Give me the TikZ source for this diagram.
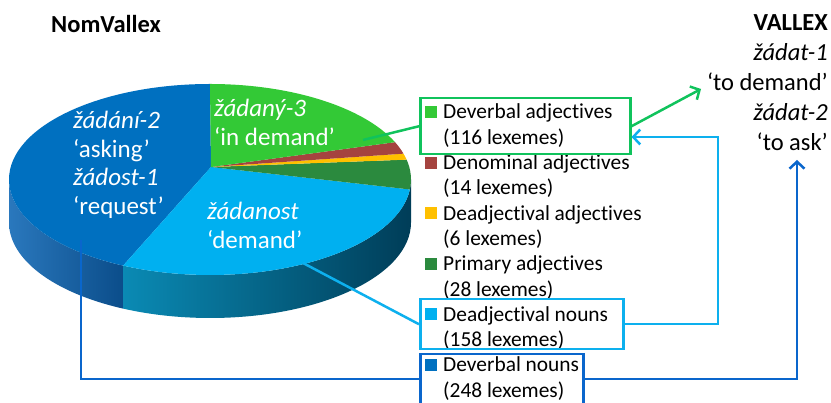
\documentclass[tikz,border=0pt]{standalone}
\usepackage{fontspec}
\setmainfont[Ligatures=NoCommon]{Carlito}
\usetikzlibrary{arrows.meta,calc}
\definecolor{cdblue}{HTML}{0070C0}
\definecolor{clblue}{HTML}{00B0F0}
\definecolor{cgreen}{HTML}{33C936}
\definecolor{cred}{HTML}{A5433F}
\definecolor{corange}{HTML}{FFC000}
\definecolor{cdgreen}{HTML}{2B8A3E}
\definecolor{lgreen}{HTML}{10C35C}
\definecolor{lblue}{HTML}{0DB0EE}
\definecolor{ldblue}{HTML}{0A66CC}
\definecolor{sideA}{HTML}{2A78BD}
\definecolor{sideB}{HTML}{0B4D8A}
\definecolor{sideC}{HTML}{0A8AB4}
\definecolor{sideD}{HTML}{004C6B}
\definecolor{sideE}{HTML}{003D58}
\newcommand\pieslice[3]{\fill[#1] (apex) -- ($(pc)+(#2:201 and 95.5)$) arc[start angle=#2,end angle=#3,x radius=201,y radius=95.5] -- cycle;}
\tikzset{
  legtext/.style={anchor=base west, inner sep=0pt, font=\fontsize{21.4}{25}\selectfont},
  legsq/.style={minimum size=12pt, inner sep=0pt, outer sep=0pt},
  pietext/.style={anchor=base west, inner sep=0pt, text=white, font=\fontsize{25}{28}\selectfont},
  vtext/.style={anchor=base east, inner sep=0pt, font=\fontsize{24.5}{30}\selectfont},
  hibox/.style={draw, line width=2.5pt, inner sep=0pt, anchor=north west},
  conn/.style={line width=2.5pt},
  tip/.style={-{Straight Barb[length=7pt,width=15pt,line width=2.5pt]}}
}
\begin{document}
\begin{tikzpicture}[x=1pt,y=1pt]
\useasboundingbox (0,0) rectangle (831,403);
\fill[white] (0,0) rectangle (831,403);
% pie geometry
\coordinate (pc) at (210,223.5);
\coordinate (apex) at (211,236);
% side
\shade[left color=sideA, right color=sideB]
  ($(pc)+(180:201 and 95.5)$) arc[start angle=180,end angle=244.4,x radius=201,y radius=95.5]
  -- ++(0,-43) arc[start angle=244.4,end angle=180,x radius=201,y radius=95.5] -- cycle;
\shade[left color=sideC, middle color=sideD, right color=sideE]
  ($(pc)+(244.4:201 and 95.5)$) arc[start angle=244.4,end angle=360,x radius=201,y radius=95.5]
  -- ++(0,-43) arc[start angle=360,end angle=244.4,x radius=201,y radius=95.5] -- cycle;
% top slices
\pieslice{cdblue}{90}{244.4}
\pieslice{clblue}{-115.6}{-6}
\pieslice{cdgreen}{-6}{12}
\pieslice{corange}{12}{15.7}
\pieslice{cred}{15.7}{23}
\pieslice{cgreen}{23}{90}
% pie labels
\node[pietext] (p1) at (73,274) {\itshape žádání-2};
\node[pietext] (p2) at (73,245.5) {‘asking’};
\node[pietext] (p3) at (73,217) {\itshape žádost-1};
\node[pietext] (p4) at (73,188.5) {‘request’};
\node[pietext] (p5) at (214,286) {\itshape žádaný-3};
\node[pietext] (p6) at (214,257) {‘in demand’};
\node[pietext] (p7) at (207,183) {\itshape žádanost};
\node[pietext] (p8) at (207,154) {‘demand’};
% titles
\node[anchor=base west, inner sep=0pt, font=\fontsize{24.5}{28}\selectfont\bfseries] (nv) at (51,370) {NomVallex};
\node[vtext, font=\fontsize{24.5}{30}\selectfont\bfseries] (v1) at (828,372) {VALLEX};
\node[vtext] (v2) at (828,342) {\itshape žádat-1};
\node[vtext] (v3) at (828,312) {‘to demand’};
\node[vtext] (v4) at (828,282) {\itshape žádat-2};
\node[vtext] (v5) at (828,252) {‘to ask’};
% legend
\node[legsq, fill=cgreen] (s1) at (431,291) {};
\node[legsq, fill=cred] (s2) at (431,240.4) {};
\node[legsq, fill=corange] (s3) at (431,189.8) {};
\node[legsq, fill=cdgreen] (s4) at (431,139.2) {};
\node[legsq, fill=clblue] (s5) at (431,88.6) {};
\node[legsq, fill=cdblue] (s6) at (431,38) {};
\node[legtext] (l1a) at (443,284) {Deverbal adjectives};
\node[legtext] (l1b) at (443,258.7) {(116 lexemes)};
\node[legtext] (l2a) at (443,233.4) {Denominal adjectives};
\node[legtext] (l2b) at (443,208.1) {(14 lexemes)};
\node[legtext] (l3a) at (443,182.8) {Deadjectival adjectives};
\node[legtext] (l3b) at (443,157.5) {(6 lexemes)};
\node[legtext] (l4a) at (443,132.2) {Primary adjectives};
\node[legtext] (l4b) at (443,106.9) {(28 lexemes)};
\node[legtext] (l5a) at (443,81.6) {Deadjectival nouns};
\node[legtext] (l5b) at (443,56.3) {(158 lexemes)};
\node[legtext] (l6a) at (443,31) {Deverbal nouns};
\node[legtext] (l6b) at (443,5.7) {(248 lexemes)};
% highlight boxes
\node[hibox, draw=lgreen, minimum width=210pt, minimum height=56pt] (gbox) at (419,306) {};
\node[hibox, draw=lblue, minimum width=203pt, minimum height=50pt] (lbbox) at (419,105) {};
\node[hibox, draw=ldblue, minimum width=163pt, minimum height=58pt] (dbbox) at (419,50) {};
% connector points
\coordinate (pg) at (363,263);
\coordinate (plb) at (303,140);
\coordinate (pdb) at (81,163);
\coordinate (vtip1) at (701,314);
\coordinate (lbturn) at (718,266);
\coordinate (vtip2) at (797,243);
% connectors
\draw[conn, lgreen] (pg) -- (gbox.west);
\draw[conn, lgreen, tip] (gbox.east) -- (vtip1);
\draw[conn, lblue] (plb) -- (lbbox.west);
\draw[conn, lblue, tip] (lbbox.east) -| (lbturn) -- (lbturn -| gbox.east);
\draw[conn, ldblue] (pdb) |- ([yshift=4pt]dbbox.west);
\draw[conn, ldblue, tip] ([yshift=4pt]dbbox.east) -| (vtip2);
\end{tikzpicture}
\end{document}
